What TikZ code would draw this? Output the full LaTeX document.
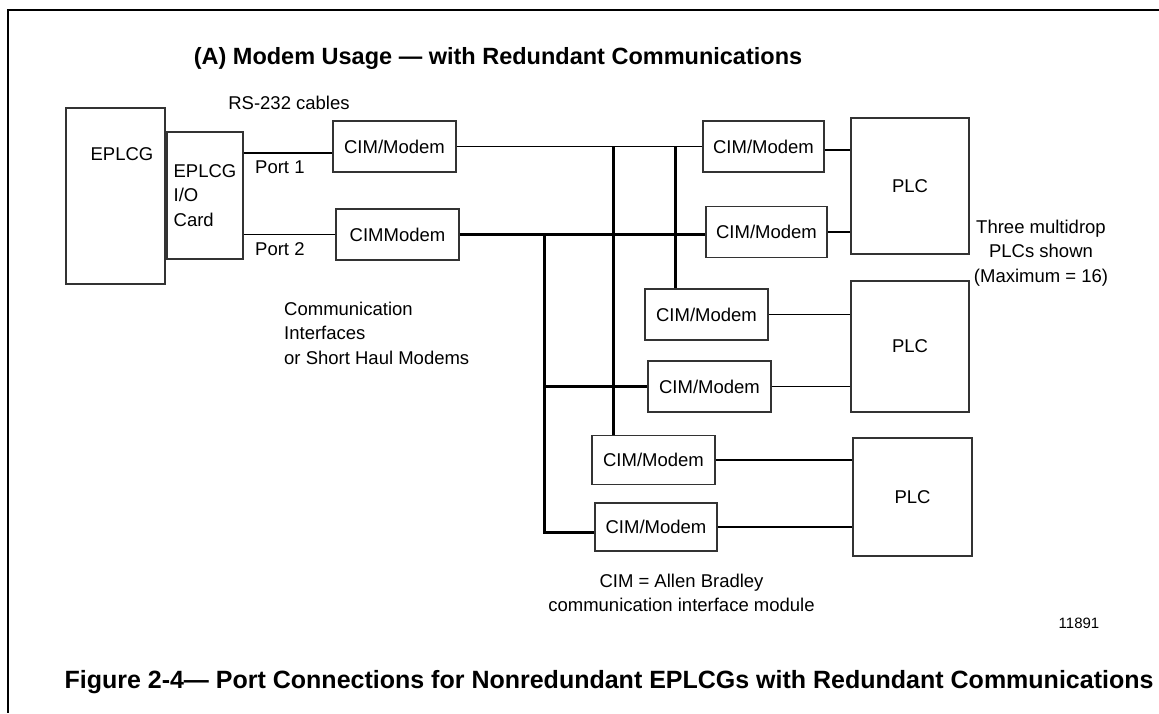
\documentclass[tikz,border=0pt]{standalone}
\usepackage{fontspec}
\setmainfont{Liberation Sans}
\begin{document}
\begin{tikzpicture}[x=1pt,y=-1pt,
        box/.style={draw=black!80,line width=1.5pt,minimum width=123pt,
            minimum height=51pt,inner sep=0pt,
            font=\fontsize{18.5}{24.5}\selectfont},
        txt/.style={inner sep=0pt,font=\fontsize{18.5}{24.5}\selectfont},
        wire/.style={line width=1.3pt},
        bus/.style={line width=3pt}]
                \useasboundingbox (0,0) rectangle (1159,713);
                \draw[line width=2.2pt] (1159,10) -- (8,10) -- (8,713);

                % heading
                \node[txt,font=\bfseries\fontsize{23.5}{28}\selectfont] (title)
                    at (498,58) {(A) Modem Usage — with Redundant Communications};
                \node[txt] (rscables) at (289,103) {RS-232 cables};

                % gateway and its card
                \node[box,minimum width=99pt,minimum height=176pt] (eplcg)
                    at (115.5,196) {};
                \node[txt] (eplcgname) at (122,154) {EPLCG};
                \node[box,minimum width=76pt,minimum height=127pt,align=left] (card)
                    at (205,195.5) {EPLCG\\I/O\\Card};

                % modems at the gateway
                \node[box] (m1) at (394.5,146.5) {CIM/Modem};
                \node[box] (m2) at (397.5,234.5) {CIMModem};

                % modems at the PLCs
                \node[box,minimum width=121pt] (r1) at (763.5,146.5) {CIM/Modem};
                \node[box,minimum width=121pt] (r2) at (766.5,232) {CIM/Modem};
                \node[box] (r3) at (706.5,314.5) {CIM/Modem};
                \node[box] (r4) at (709.5,386.5) {CIM/Modem};
                \node[box,minimum height=49pt] (r5) at (653.5,460) {CIM/Modem};
                \node[box,minimum width=122pt,minimum height=48pt] (r6)
                    at (656,527) {CIM/Modem};

                % PLCs
                \node[box,minimum width=118pt,minimum height=136pt] (plc1)
                    at (910,186) {PLC};
                \node[box,minimum width=118pt,minimum height=131pt] (plc2)
                    at (910,346.5) {PLC};
                \node[box,minimum width=119pt,minimum height=118pt] (plc3)
                    at (912.5,497) {PLC};

                % RS-232 cables
                \draw[wire] ([yshift=-6.5pt]m1.west) coordinate (p1)
                    -- (p1 -| card.east);
                \draw[wire] (m2.west) -- (m2.west -| card.east);
                \node[txt,anchor=west] (port1) at (255,167) {Port 1};
                \node[txt,anchor=west] (port2) at (255,249) {Port 2};

                % the two lines
                \draw[wire] (m1.east) -- (r1.west);
                \draw[bus] (m2.east) -- (m2.east -| r2.west);
                \coordinate (ja) at (544,234.5);
                \coordinate (jb) at (613,146.5);
                \coordinate (jc) at (675,146.5);
                \draw[bus] (jb) -- (jb |- r5.north);
                \draw[bus] (jc) -- (jc |- r3.north);
                \draw[bus] (ja) |- ([yshift=-5pt]r6.west);
                \draw[bus] (ja |- r4.west) -- (r4.west);

                % modem to PLC
                \draw[wire] ([yshift=-3.5pt]r1.east) coordinate (q1)
                    -- (q1 -| plc1.west);
                \draw[wire] (r2.east) -- (r2.east -| plc1.west);
                \draw[wire] (r3.east) -- (r3.east -| plc2.west);
                \draw[wire] (r4.east) -- (r4.east -| plc2.west);
                \draw[wire] (r5.east) -- (r5.east -| plc3.west);
                \draw[wire] (r6.east) -- (r6.east -| plc3.west);

                % notes
                \node[txt,anchor=west,align=left] (commnote) at (284,333)
                    {Communication\\Interfaces\\or Short Haul Modems};
                \node[txt,align=center] (plcnote) at (1041,253)
                    {Three multidrop\\PLCs shown\\(Maximum = 16)};
                \node[txt,align=center] (cimnote) at (681.5,593)
                    {CIM = Allen Bradley\\communication interface module};
                \node[txt,font=\fontsize{15}{18}\selectfont] (fignum)
                    at (1079,623) {11891};
                \node[txt,font=\bfseries\fontsize{25}{28}\selectfont] (caption)
                    at (609,682) {Figure 2-4— Port Connections for Nonredundant
                    EPLCGs with Redundant Communications};
            \end{tikzpicture}
\end{document}
